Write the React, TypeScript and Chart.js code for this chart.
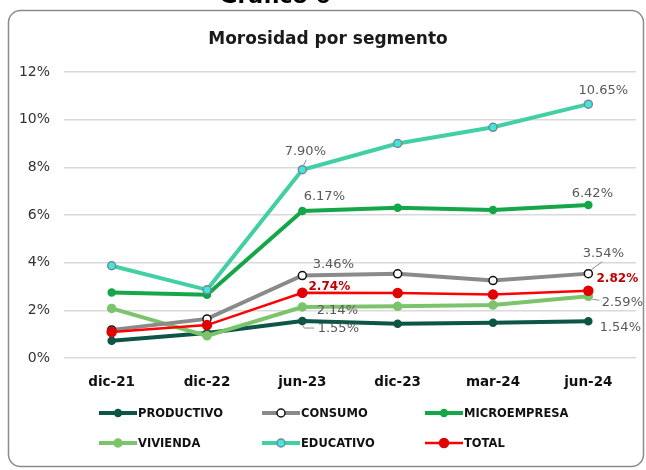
import React, { useEffect, useRef } from "react";
import { Chart, registerables } from "chart.js";

Chart.register(...registerables);

const categories = ["dic-21", "dic-22", "jun-23", "dic-23", "mar-24", "jun-24"];
const productivo = [0.72, 1.05, 1.55, 1.44, 1.48, 1.54];
const consumo = [1.18, 1.64, 3.46, 3.53, 3.25, 3.54];
const microempresa = [2.75, 2.65, 6.17, 6.3, 6.21, 6.42];
const vivienda = [2.08, 0.93, 2.14, 2.17, 2.22, 2.59];
const educativo = [3.87, 2.86, 7.9, 9.0, 9.68, 10.65];
const total = [1.09, 1.38, 2.74, 2.73, 2.66, 2.82];
const yTickValues = [0, 2, 4, 6, 8, 10, 12];
const chartTitle = "Morosidad por segmento";
const pageHeading = "Gráfico 6";

const FONT = "'DejaVu Sans', Verdana, sans-serif";

type SeriesStyle = {
  label: string;
  data: number[];
  color: string;
  width: number;
  pointFill: string;
  pointBorder: string;
  radius: number;
  order: number;
};

const series: SeriesStyle[] = [
  { label: "PRODUCTIVO", data: productivo, color: "#0d5546", width: 4, pointFill: "#0d5546", pointBorder: "#0d5546", radius: 3.5, order: 5 },
  { label: "CONSUMO", data: consumo, color: "#8a8a8a", width: 4, pointFill: "#ffffff", pointBorder: "#111111", radius: 4, order: 2 },
  { label: "MICROEMPRESA", data: microempresa, color: "#15a64a", width: 4, pointFill: "#15a64a", pointBorder: "#15a64a", radius: 3.5, order: 4 },
  { label: "VIVIENDA", data: vivienda, color: "#7cc46b", width: 4, pointFill: "#7cc46b", pointBorder: "#7cc46b", radius: 4, order: 3 },
  { label: "EDUCATIVO", data: educativo, color: "#41cfa3", width: 4, pointFill: "#3ee6e6", pointBorder: "#7a8a8a", radius: 4, order: 1 },
  { label: "TOTAL", data: total, color: "#ff0000", width: 2.5, pointFill: "#e00000", pointBorder: "#e00000", radius: 4.5, order: 0 },
];

// value label placement (pixel offsets from the point)
type LabelSpec = { s: string; i: number; dx: number; dy: number; red?: boolean; leader?: number[][] };
const labelSpecs: LabelSpec[] = [
  { s: "EDUCATIVO", i: 5, dx: 15, dy: -14 },
  { s: "EDUCATIVO", i: 2, dx: 3, dy: -18, leader: [[1, -4], [4, -10]] },
  { s: "MICROEMPRESA", i: 2, dx: 22, dy: -14 },
  { s: "MICROEMPRESA", i: 5, dx: 4, dy: -11 },
  { s: "CONSUMO", i: 2, dx: 31, dy: -11 },
  { s: "CONSUMO", i: 5, dx: 15, dy: -20, leader: [[3, -4], [14, -12]] },
  { s: "TOTAL", i: 5, dx: 29, dy: -12, red: true },
  { s: "TOTAL", i: 2, dx: 27, dy: -6, red: true },
  { s: "VIVIENDA", i: 5, dx: 34, dy: 6, leader: [[4, 3], [11, 4]] },
  { s: "VIVIENDA", i: 2, dx: 35, dy: 4 },
  { s: "PRODUCTIVO", i: 5, dx: 32, dy: 6 },
  { s: "PRODUCTIVO", i: 2, dx: 36, dy: 8, leader: [[0, 4], [2, 7], [12, 7]] },
];

const legendRows = [
  ["PRODUCTIVO", "CONSUMO", "MICROEMPRESA"],
  ["VIVIENDA", "EDUCATIVO", "TOTAL"],
];
const legendColX = [99, 262, 425];
const legendRowY = [413, 443];

const decorPlugin = {
  id: "decor",
  beforeDraw(chart: any) {
    const ctx = chart.ctx;
    ctx.save();
    ctx.strokeStyle = "#8c8c8c";
    ctx.lineWidth = 1.5;
    const x = 8.5, y = 10.5, w = 635, h = 456, r = 12;
    ctx.beginPath();
    ctx.moveTo(x + r, y);
    ctx.lineTo(x + w - r, y);
    ctx.arcTo(x + w, y, x + w, y + r, r);
    ctx.lineTo(x + w, y + h - r);
    ctx.arcTo(x + w, y + h, x + w - r, y + h, r);
    ctx.lineTo(x + r, y + h);
    ctx.arcTo(x, y + h, x, y + h - r, r);
    ctx.lineTo(x, y + r);
    ctx.arcTo(x, y, x + r, y, r);
    ctx.closePath();
    ctx.stroke();
    ctx.fillStyle = "#000000";
    ctx.font = `bold 22px ${FONT}`;
    ctx.textAlign = "center";
    ctx.textBaseline = "alphabetic";
    ctx.fillText(pageHeading, 275, 3);
    ctx.fillStyle = "#1a1a1a";
    ctx.font = `bold 17px ${FONT}`;
    ctx.textBaseline = "middle";
    ctx.fillText(chartTitle, 328, 40);
    ctx.restore();
  },
  afterDatasetsDraw(chart: any) {
    const ctx = chart.ctx;
    ctx.save();
    for (const spec of labelSpecs) {
      const dsIndex = series.findIndex((s) => s.label === spec.s);
      const meta = chart.getDatasetMeta(dsIndex);
      const pt = meta.data[spec.i];
      const px = pt.x, py = pt.y;
      if (spec.leader) {
        ctx.strokeStyle = "#8c8c8c";
        ctx.lineWidth = 1;
        ctx.beginPath();
        spec.leader.forEach(([lx, ly], k) => {
          if (k === 0) ctx.moveTo(px + lx, py + ly);
          else ctx.lineTo(px + lx, py + ly);
        });
        ctx.stroke();
      }
      const value = series[dsIndex].data[spec.i];
      const text = value.toFixed(2) + "%";
      ctx.font = spec.red ? `bold 12px ${FONT}` : `13px ${FONT}`;
      ctx.fillStyle = spec.red ? "#c00000" : "#595959";
      ctx.textAlign = "center";
      ctx.textBaseline = "middle";
      ctx.fillText(text, px + spec.dx, py + spec.dy);
    }
    legendRows.forEach((row, r) => {
      row.forEach((name, c) => {
        const s = series.find((q) => q.label === name)!;
        const x0 = legendColX[c];
        const y0 = legendRowY[r];
        ctx.strokeStyle = s.color;
        ctx.lineWidth = s.width;
        ctx.beginPath();
        ctx.moveTo(x0, y0);
        ctx.lineTo(x0 + 38, y0);
        ctx.stroke();
        ctx.beginPath();
        ctx.arc(x0 + 19, y0, s.radius, 0, Math.PI * 2);
        ctx.fillStyle = s.pointFill;
        ctx.fill();
        ctx.lineWidth = 1.5;
        ctx.strokeStyle = s.pointBorder;
        ctx.stroke();
        ctx.fillStyle = "#111111";
        ctx.font = `bold 11.5px ${FONT}`;
        ctx.textAlign = "left";
        ctx.textBaseline = "middle";
        ctx.fillText(name, x0 + 39, y0 + 1);
      });
    });
    ctx.restore();
  },
};

export default function App() {
  const ref = useRef<HTMLCanvasElement | null>(null);
  useEffect(() => {
    if (!ref.current) return;
    const chart = new Chart(ref.current, {
      type: "line",
      data: {
        labels: categories,
        datasets: series.map((s) => ({
          label: s.label,
          data: s.data,
          borderColor: s.color,
          backgroundColor: s.pointFill,
          borderWidth: s.width,
          pointBackgroundColor: s.pointFill,
          pointBorderColor: s.pointBorder,
          pointBorderWidth: 1.5,
          pointRadius: s.radius,
          tension: 0,
          order: s.order,
          clip: false as any,
        })),
      },
      options: {
        animation: false,
        responsive: false,
        layout: { padding: { top: 72, right: 10, left: 0, bottom: 0 } },
        plugins: {
          legend: { display: false },
          title: { display: false },
          tooltip: { enabled: false },
        },
        scales: {
          x: {
            offset: true,
            grid: { display: false, drawTicks: false, offset: true },
            border: { display: false },
            ticks: {
              color: "#111111",
              font: { family: FONT, size: 13.5, weight: "bold" },
              padding: 16,
            },
            afterFit: (scale: any) => {
              scale.height = 112;
            },
          },
          y: {
            min: 0,
            max: 12,
            afterBuildTicks: (scale: any) => {
              scale.ticks = yTickValues.map((v) => ({ value: v }));
            },
            grid: { color: "#d9d9d9", lineWidth: 1.5, drawTicks: false },
            border: { display: false },
            ticks: {
              color: "#333333",
              font: { family: FONT, size: 14 },
              padding: 14,
              callback: (v: any) => v + "%",
            },
            afterFit: (scale: any) => {
              scale.width = 64;
            },
          },
        },
      },
      plugins: [decorPlugin],
    });
    return () => chart.destroy();
  }, []);
  return (
    <div style={{ position: "absolute", left: 0, top: 0, width: 646, height: 470, background: "#ffffff" }}>
      <canvas ref={ref} width={646} height={470} style={{ display: "block" }} />
    </div>
  );
}
